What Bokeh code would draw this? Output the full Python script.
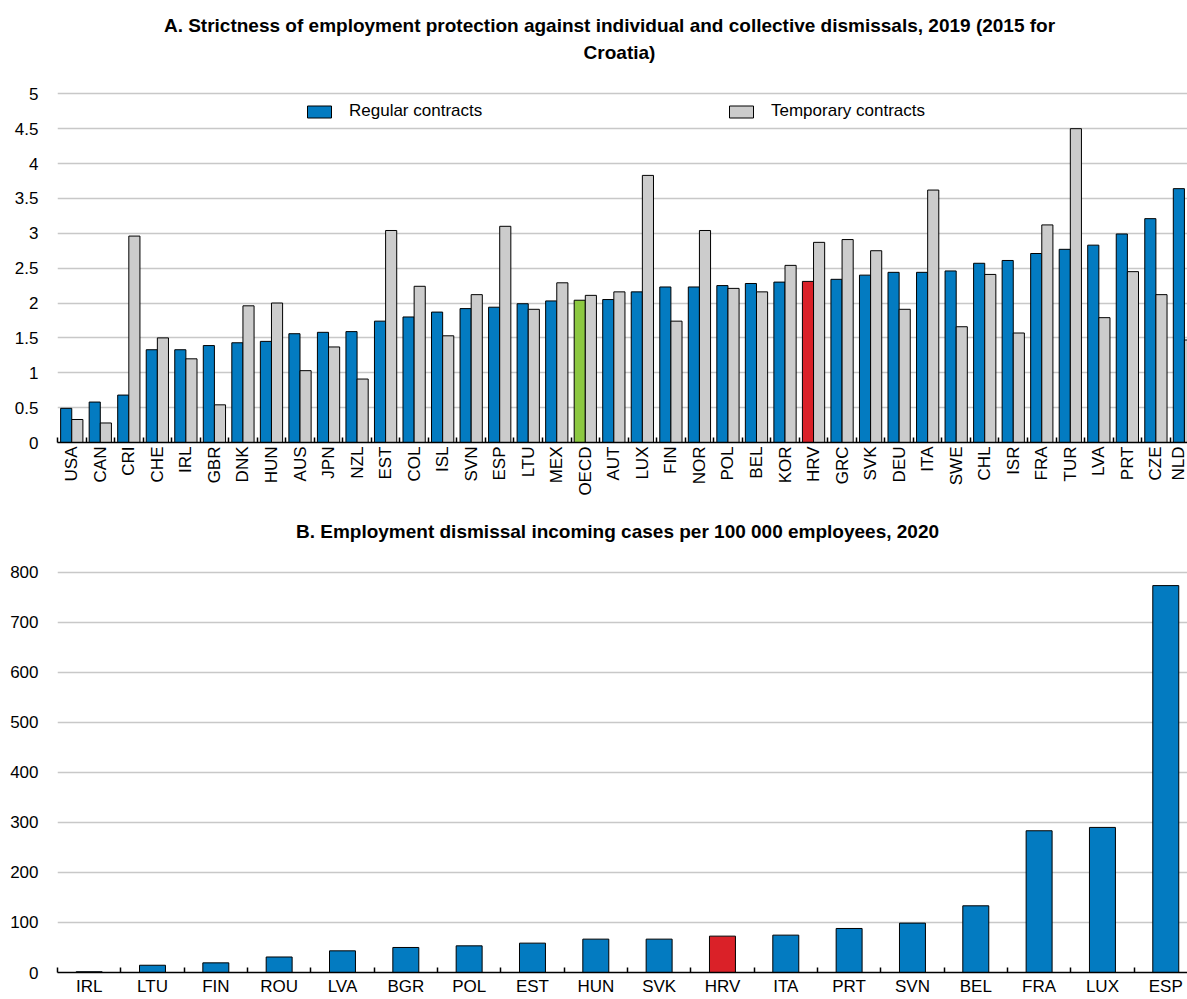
from bokeh.plotting import figure
from bokeh.models import (Range1d, FixedTicker, Legend, LegendItem, Label,
                          ColumnDataSource, NumeralTickFormatter)
from bokeh.layouts import column
from bokeh.embed import file_html
from bokeh.resources import INLINE

# ---------------- data ----------------
countries_a = ["USA", "CAN", "CRI", "CHE", "IRL", "GBR", "DNK", "HUN", "AUS", "JPN",
               "NZL", "EST", "COL", "ISL", "SVN", "ESP", "LTU", "MEX", "OECD", "AUT",
               "LUX", "FIN", "NOR", "POL", "BEL", "KOR", "HRV", "GRC", "SVK", "DEU",
               "ITA", "SWE", "CHL", "ISR", "FRA", "TUR", "LVA", "PRT", "CZE", "NLD"]
regular_a = [0.49, 0.58, 0.68, 1.33, 1.33, 1.39, 1.43, 1.45, 1.56, 1.58,
             1.59, 1.74, 1.80, 1.87, 1.92, 1.94, 1.99, 2.03, 2.04, 2.05,
             2.16, 2.23, 2.23, 2.25, 2.28, 2.30, 2.31, 2.34, 2.40, 2.44,
             2.44, 2.46, 2.57, 2.61, 2.71, 2.77, 2.83, 2.99, 3.21, 3.64]
temporary_a = [0.33, 0.28, 2.96, 1.50, 1.20, 0.54, 1.96, 2.00, 1.03, 1.37,
               0.91, 3.04, 2.24, 1.53, 2.12, 3.10, 1.91, 2.29, 2.11, 2.16,
               3.83, 1.74, 3.04, 2.21, 2.16, 2.54, 2.87, 2.91, 2.75, 1.91,
               3.62, 1.66, 2.41, 1.57, 3.12, 4.50, 1.79, 2.45, 2.12, 1.47]
yticks_a = [0, 0.5, 1, 1.5, 2, 2.5, 3, 3.5, 4, 4.5, 5]

countries_b = ["IRL", "LTU", "FIN", "ROU", "LVA", "BGR", "POL", "EST", "HUN", "SVK",
               "HRV", "ITA", "PRT", "SVN", "BEL", "FRA", "LUX", "ESP"]
cases_b = [1.5, 14.5, 19.3, 31, 43.3, 50, 53.3, 58.7, 66.7, 66.7,
           72.7, 74.7, 88, 98.7, 133.3, 283.3, 290, 773.3]
yticks_b = [0, 100, 200, 300, 400, 500, 600, 700, 800]

title_a1 = "A. Strictness of employment protection against individual and collective dismissals, 2019 (2015 for"
title_a2 = "Croatia)"
title_b = "B. Employment dismissal incoming cases per 100 000 employees, 2020"
legend_labels = ["Regular contracts", "Temporary contracts"]

# ---------------- style ----------------
BLUE = "#037BC1"
GREY = "#CCCCCC"
GREEN = "#8CC841"
RED = "#DA2128"
highlight = {"OECD": GREEN, "HRV": RED}
TICK_FONT = "Liberation Sans"
TITLE_FONT = "Liberation Sans"
TICK_FS = "17px"
TITLE_FS = "19px"
GRID = "#C8C8C8"

W = 1187
LEFT = 57
FRAME_W = W - LEFT
CAT_A = 28.53   # px per category, panel A
CAT_B = 63.33   # px per category, panel B


def style(p, yticks, fmt, cat_count):
    p.outline_line_color = None
    p.xgrid.visible = False
    p.ygrid.ticker = FixedTicker(ticks=yticks)
    p.ygrid.grid_line_color = GRID
    p.ygrid.grid_line_width = 1.5
    ya = p.yaxis[0]
    ya.ticker = FixedTicker(ticks=yticks)
    ya.formatter = NumeralTickFormatter(format=fmt)
    ya.axis_line_color = None
    ya.major_tick_line_color = None
    ya.minor_tick_line_color = None
    ya.major_tick_out = 0
    ya.major_tick_in = 0
    ya.major_label_standoff = 19
    ya.major_label_text_font = TICK_FONT
    ya.major_label_text_font_size = TICK_FS
    ya.major_label_text_color = "#000000"
    xa = p.xaxis[0]
    centers = [i + 0.5 for i in range(cat_count)]
    xa.ticker = FixedTicker(ticks=centers, minor_ticks=list(range(cat_count + 1)))
    xa.axis_line_color = "#000000"
    xa.axis_line_width = 1.5
    xa.major_tick_line_color = None
    xa.major_tick_out = 0
    xa.major_tick_in = 0
    xa.minor_tick_line_color = "#000000"
    xa.minor_tick_line_width = 1.5
    xa.minor_tick_in = 5
    xa.minor_tick_out = 0
    xa.major_label_text_font = TICK_FONT
    xa.major_label_text_font_size = TICK_FS
    xa.major_label_text_color = "#000000"
    return xa, centers


def title_label(text, x, y):
    return Label(x=x, y=y, x_units="screen", y_units="screen", text=text,
                 text_font=TITLE_FONT, text_font_size=TITLE_FS, text_font_style="bold",
                 text_align="center", text_baseline="alphabetic", text_color="#000000")


# ---------------- panel A ----------------
na = len(countries_a)
# frame spans the canvas above the x-axis band; the title sits inside the
# frame, above the top gridline
pa = figure(width=W, height=505, output_backend="svg", toolbar_location=None, title=None,
            x_range=Range1d(0, FRAME_W / CAT_A), y_range=Range1d(0, 6.338),
            min_border_left=LEFT, min_border_right=0, min_border_top=0,
            min_border_bottom=63)
xa, centers_a = style(pa, yticks_a, "0.[0]", na)
xa.major_label_overrides = {c: n for c, n in zip(centers_a, countries_a)}
xa.major_label_orientation = 3.14159265 / 2
xa.major_label_standoff = 4

src_a = ColumnDataSource(dict(
    x_reg=[c - 0.195 for c in centers_a],
    x_tmp=[c + 0.195 for c in centers_a],
    reg=regular_a, tmp=temporary_a,
    col=[highlight.get(c, BLUE) for c in countries_a]))
r_reg = pa.vbar(x="x_reg", top="reg", width=0.39, source=src_a,
                fill_color="col", line_color="#000000", line_width=1)
r_tmp = pa.vbar(x="x_tmp", top="tmp", width=0.39, source=src_a,
                fill_color=GREY, line_color="#000000", line_width=1)

for label, rend, lx in [(legend_labels[0], r_reg, 247), (legend_labels[1], r_tmp, 669)]:
    lg = Legend(items=[LegendItem(label=label, renderers=[rend], index=0)],
                location=(lx, 321), orientation="horizontal",
                glyph_width=30, glyph_height=15, label_height=15, label_standoff=15,
                padding=0, margin=0, spacing=0,
                border_line_alpha=0, background_fill_alpha=0,
                label_text_font=TICK_FONT, label_text_font_size=TICK_FS,
                label_text_color="#000000")
    pa.add_layout(lg, "center")

pa.add_layout(title_label(title_a1, 552, 417))
pa.add_layout(title_label(title_a2, 562, 390))

# ---------------- panel B ----------------
nb = len(countries_b)
pb = figure(width=W, height=494, output_backend="svg", toolbar_location=None, title=None,
            x_range=Range1d(0, FRAME_W / CAT_B), y_range=Range1d(0, 933.4),
            min_border_left=LEFT, min_border_right=0, min_border_top=0,
            min_border_bottom=27)
xb, centers_b = style(pb, yticks_b, "0", nb)
xb.major_label_overrides = {c: n for c, n in zip(centers_b, countries_b)}
xb.major_label_standoff = 4

src_b = ColumnDataSource(dict(x=centers_b, v=cases_b,
                              col=[highlight.get(c, BLUE) for c in countries_b]))
pb.vbar(x="x", top="v", width=0.41, source=src_b,
        fill_color="col", line_color="#000000", line_width=1)

pb.add_layout(title_label(title_b, 560, 441))

layout = column(pa, pb, spacing=0)
open("out.html", "w").write(file_html(layout, INLINE))
